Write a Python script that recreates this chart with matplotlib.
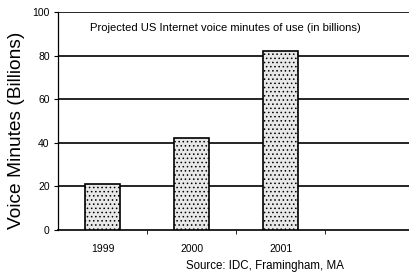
import matplotlib
matplotlib.use("Agg")
import matplotlib.pyplot as plt

years = ["1999", "2000", "2001"]
values = [21, 42, 82]
yticks = [0, 20, 40, 60, 80, 100]

plt.rcParams['font.family'] = ['Liberation Sans', 'DejaVu Sans']
plt.rcParams['hatch.color'] = '#666666'
plt.rcParams['hatch.linewidth'] = 0.6

fig = plt.figure(figsize=(4.1, 2.73), dpi=100)
ax = fig.add_axes([58/410, 1-230/273, 1-58/410, (230-12)/273])

x = list(range(len(years)))
ax.bar(x, values, width=0.39, facecolor='#e8e8e8', edgecolor='black',
       linewidth=1.2, hatch='....', zorder=3)

ax.set_xlim(-0.5, 3.45)
ax.set_ylim(0, 100)
ax.set_yticks(yticks)
ax.set_yticklabels([str(t) for t in yticks], fontsize=7.5)
ax.set_xticks(x)
ax.set_xticklabels(years, fontsize=7.5)
ax.tick_params(axis='x', length=0, pad=10)
ax.set_xticks([0.5, 1.5, 2.5], minor=True)
ax.tick_params(axis='x', which='minor', length=3, direction='out')
ax.tick_params(axis='y', length=3, direction='out', pad=3)

for t in yticks[1:]:
    ax.axhline(t, color='black', linewidth=1.2, zorder=1)

for s in ['top', 'right']:
    ax.spines[s].set_visible(False)
ax.spines['left'].set_linewidth(0.9)
ax.spines['bottom'].set_linewidth(1.2)

ax.text(0.09, 0.925, "Projected US Internet voice minutes of use (in billions)",
        transform=ax.transAxes, fontsize=8.1, va='center', ha='left')
ax.set_ylabel("Voice Minutes (Billions)", fontsize=13.8)
ax.yaxis.set_label_coords(-0.094, 0.455)
fig.text(265/410, 1-266/273, "Source: IDC, Framingham, MA", fontsize=8.3,
         ha='center', va='center')

fig.savefig("out.png", dpi=100)
